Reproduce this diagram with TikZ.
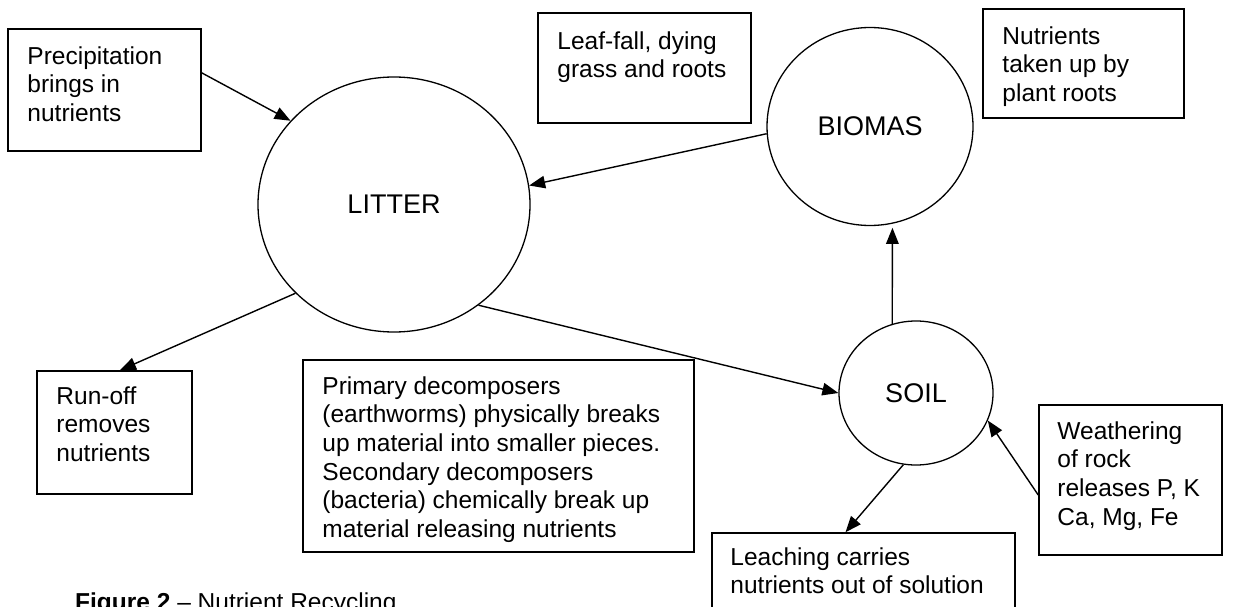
\documentclass[tikz,border=0pt]{standalone}
\usepackage{fontspec}
\setmainfont{Liberation Sans}
\usetikzlibrary{positioning, arrows.meta, shapes.geometric}

\newcommand{\boxfont}{\fontsize{24.5}{28.6}\selectfont}
\newcommand{\poolfont}{\fontsize{27}{30}\selectfont}

\tikzset{
    pool/.style={draw, ellipse, line width=1.3pt, inner sep=0pt, font=\poolfont},
    infobox/.style={draw, rectangle, line width=1.5pt, inner sep=0pt},
    boxtext/.style={anchor=north west, inner sep=0pt, align=left, font=\boxfont},
    flow/.style={-{Triangle[length=16pt, width=12.5pt]}, line width=1.4pt}
}

\begin{document}
\begin{tikzpicture}[x=1pt, y=-1pt]

    \useasboundingbox (0,0) rectangle (1239,607);

    % The three pools
    \node[pool, minimum width=272pt, minimum height=255pt] (litter) at (394,204.5) {LITTER};
    \node[pool, minimum width=206pt, minimum height=198pt] (biomas) at (870,126.5) {BIOMAS};
    \node[pool, minimum width=154pt, minimum height=144pt] (soil) at (916,393) {SOIL};

    % Boxes, text hangs from the top left corner
    \node[infobox, minimum width=193pt, minimum height=122pt] (precip) at (104.5,90) {};
    \node[boxtext] (precip text) at ([xshift=20pt, yshift=-18pt]precip.north west)
        {Precipitation\\brings in\\nutrients};

    \node[infobox, minimum width=213pt, minimum height=110pt] (leaf) at (644.5,68) {};
    \node[boxtext] (leaf text) at ([xshift=20pt, yshift=-19pt]leaf.north west)
        {Leaf-fall, dying\\grass and roots};

    \node[infobox, minimum width=201pt, minimum height=109pt] (uptake) at (1083.5,63.5) {};
    \node[boxtext] (uptake text) at ([xshift=20pt, yshift=-18pt]uptake.north west)
        {Nutrients\\taken up by\\plant roots};

    \node[infobox, minimum width=155pt, minimum height=123pt] (runoff) at (114.5,432.5) {};
    \node[boxtext] (runoff text) at ([xshift=20pt, yshift=-16pt]runoff.north west)
        {Run-off\\removes\\nutrients};

    \node[infobox, minimum width=391pt, minimum height=192pt] (decomp) at (498.5,456) {};
    \node[boxtext] (decomp text) at ([xshift=20pt, yshift=-17pt]decomp.north west)
        {Primary decomposers\\(earthworms) physically breaks\\up material into smaller pieces.\\Secondary decomposers\\(bacteria) chemically break up\\material releasing nutrients};

    \node[infobox, minimum width=183pt, minimum height=150pt] (weather) at (1130.5,480) {};
    \node[boxtext] (weather text) at ([xshift=19pt, yshift=-17pt]weather.north west)
        {Weathering\\of rock\\releases P, K\\Ca, Mg, Fe};

    \node[infobox, minimum width=303pt, minimum height=120pt] (leach) at (863.5,593) {};
    \node[boxtext] (leach text) at ([xshift=19pt, yshift=-15pt]leach.north west)
        {Leaching carries\\nutrients out of solution};

    % Flows between pools and boxes
    \draw[flow] (precip.10) -- (litter.141);
    \draw[flow] (biomas.184) -- (litter.8);
    \draw[flow, shorten >=4pt] (soil.109) -- (biomas.283);
    \draw[flow] (litter.222) -- (runoff.85);
    \draw[flow] (litter.310) -- (soil.west);
    \draw[flow] (soil.260) -- ([xshift=-18pt]leach.north);
    \draw[flow] ([yshift=-15pt]weather.west) -- (soil.339);

    % Caption, cut by the page edge as in the source
    \node[anchor=base west, inner sep=0pt, font=\boxfont] (caption) at (75,610)
        {\textbf{Figure 2} – Nutrient Recycling};

\end{tikzpicture}
\end{document}
